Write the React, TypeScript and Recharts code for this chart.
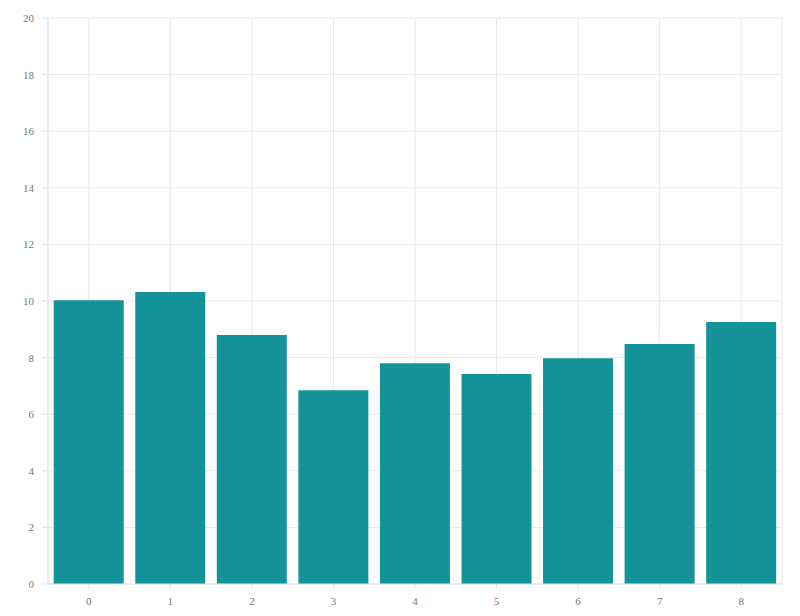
import React from "react";
import { BarChart, Bar, XAxis, YAxis, CartesianGrid } from "recharts";

const categories = ["0", "1", "2", "3", "4", "5", "6", "7", "8"];
const values = [10.03, 10.32, 8.8, 6.85, 7.8, 7.42, 7.98, 8.48, 9.26];
const yTicks = [0, 2, 4, 6, 8, 10, 12, 14, 16, 18, 20];

const data = categories.map((c, i) => ({ name: c, value: values[i] }));

const tickStyle = {
  fill: "#777",
  fontSize: 11,
  fontFamily: "'Liberation Serif', 'DejaVu Serif', serif",
  style: { fontFamily: "'Liberation Serif', 'DejaVu Serif', serif" },
};

export default function App() {
  return (
    <div
      style={{
        position: "absolute",
        left: 0,
        top: 0,
        width: 800,
        height: 616,
        background: "#fff",
        fontFamily: "'Liberation Serif', serif",
      }}
    >
      <BarChart
        width={800}
        height={616}
        data={data}
        margin={{ top: 18, right: 18, bottom: 0, left: 0 }}
        barCategoryGap="7%"
        style={{ fontFamily: "'Liberation Serif', serif" }}
      >
        <CartesianGrid stroke="#e8e8e8" vertical={true} horizontal={true} />
        <XAxis
          dataKey="name"
          height={32}
          tick={tickStyle}
          tickSize={5}
          tickMargin={8}
          tickLine={{ stroke: "#e3e3e3" }}
          axisLine={{ stroke: "#e3e3e3" }}
        />
        <YAxis
          width={48}
          domain={[0, 20]}
          ticks={yTicks}
          tick={tickStyle}
          tickSize={6}
          tickMargin={8}
          interval={0}
          tickLine={{ stroke: "#e3e3e3" }}
          axisLine={{ stroke: "#e3e3e3" }}
        />
        <Bar dataKey="value" fill="#149398" isAnimationActive={false} />
      </BarChart>
    </div>
  );
}
